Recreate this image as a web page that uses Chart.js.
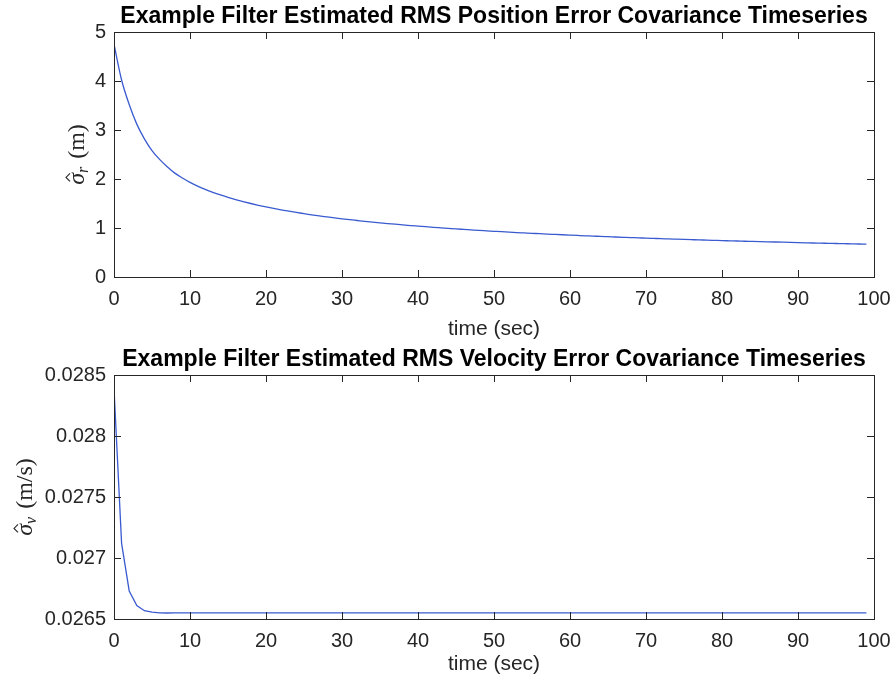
<!DOCTYPE html>
<html>
<head>
<meta charset="utf-8">
<script src="https://cdn.jsdelivr.net/npm/chart.js@4.4.0/dist/chart.umd.min.js"></script>
<style>
  body { margin: 0; background: #fff; }
  canvas { position: absolute; left: 0; }
  #posChart { top: 0; }
  #velChart { top: 342px; }
</style>
</head>
<body>
<canvas id="posChart" width="896" height="342"></canvas>
<canvas id="velChart" width="896" height="343"></canvas>
<script>
// time stamps (sec), one sample per second
const times = [
  0, 1, 2, 3, 4, 5, 6, 7, 8, 9,
  10, 11, 12, 13, 14, 15, 16, 17, 18, 19,
  20, 21, 22, 23, 24, 25, 26, 27, 28, 29,
  30, 31, 32, 33, 34, 35, 36, 37, 38, 39,
  40, 41, 42, 43, 44, 45, 46, 47, 48, 49,
  50, 51, 52, 53, 54, 55, 56, 57, 58, 59,
  60, 61, 62, 63, 64, 65, 66, 67, 68, 69,
  70, 71, 72, 73, 74, 75, 76, 77, 78, 79,
  80, 81, 82, 83, 84, 85, 86, 87, 88, 89,
  90, 91, 92, 93, 94, 95, 96, 97, 98, 99,
];

// estimated RMS position error (m)
const posSigma = [
  4.75, 4.02, 3.52, 3.12, 2.82, 2.58, 2.40, 2.25, 2.12, 2.02,
  1.93, 1.856, 1.789, 1.729, 1.675, 1.626, 1.580, 1.539, 1.500, 1.464,
  1.431, 1.400, 1.370, 1.343, 1.317, 1.293, 1.269, 1.247, 1.227, 1.207,
  1.188, 1.170, 1.153, 1.136, 1.120, 1.105, 1.091, 1.077, 1.063, 1.050,
  1.038, 1.026, 1.014, 1.003, 0.992, 0.981, 0.971, 0.961, 0.951, 0.942,
  0.933, 0.924, 0.916, 0.907, 0.899, 0.891, 0.884, 0.876, 0.869, 0.862,
  0.855, 0.848, 0.841, 0.835, 0.828, 0.822, 0.816, 0.810, 0.804, 0.799,
  0.793, 0.788, 0.783, 0.777, 0.772, 0.767, 0.762, 0.757, 0.753, 0.748,
  0.743, 0.739, 0.735, 0.730, 0.726, 0.722, 0.718, 0.714, 0.710, 0.706,
  0.702, 0.698, 0.694, 0.691, 0.687, 0.684, 0.680, 0.677, 0.673, 0.670,
];

// estimated RMS velocity error (m/s)
const velSigma = [
  0.02839, 0.02712, 0.02673, 0.02661, 0.026568, 0.026556, 0.026551, 0.026549, 0.02655, 0.02655,
  0.02655, 0.02655, 0.02655, 0.02655, 0.02655, 0.02655, 0.02655, 0.02655, 0.02655, 0.02655,
  0.02655, 0.02655, 0.02655, 0.02655, 0.02655, 0.02655, 0.02655, 0.02655, 0.02655, 0.02655,
  0.02655, 0.02655, 0.02655, 0.02655, 0.02655, 0.02655, 0.02655, 0.02655, 0.02655, 0.02655,
  0.02655, 0.02655, 0.02655, 0.02655, 0.02655, 0.02655, 0.02655, 0.02655, 0.02655, 0.02655,
  0.02655, 0.02655, 0.02655, 0.02655, 0.02655, 0.02655, 0.02655, 0.02655, 0.02655, 0.02655,
  0.02655, 0.02655, 0.02655, 0.02655, 0.02655, 0.02655, 0.02655, 0.02655, 0.02655, 0.02655,
  0.02655, 0.02655, 0.02655, 0.02655, 0.02655, 0.02655, 0.02655, 0.02655, 0.02655, 0.02655,
  0.02655, 0.02655, 0.02655, 0.02655, 0.02655, 0.02655, 0.02655, 0.02655, 0.02655, 0.02655,
  0.02655, 0.02655, 0.02655, 0.02655, 0.02655, 0.02655, 0.02655, 0.02655, 0.02655, 0.02655,
];

const posTitle = 'Example Filter Estimated RMS Position Error Covariance Timeseries';
const velTitle = 'Example Filter Estimated RMS Velocity Error Covariance Timeseries';
const xLabel   = 'time (sec)';
const posYTicks = ['0', '1', '2', '3', '4', '5'];
const velYTicks = ['0.0265', '0.027', '0.0275', '0.028', '0.0285'];

const SANS       = '"Liberation Sans", Arial, Helvetica, sans-serif';
const SERIF      = '"Liberation Serif", "Times New Roman", serif';
const AXIS_COLOR = '#262626';
const LINE_COLOR = '#3a5bd0';
const TICK_LEN   = 7;

// MATLAB-style box with inward ticks on all four sides
const boxTicks = {
  id: 'boxTicks',
  afterDatasetsDraw(chart) {
    const { ctx, chartArea: a, scales: { x, y } } = chart;
    ctx.save();
    ctx.strokeStyle = AXIS_COLOR;
    ctx.lineWidth = 1;
    ctx.strokeRect(a.left + 0.5, a.top + 0.5, a.right - a.left, a.bottom - a.top);
    ctx.beginPath();
    x.ticks.forEach(t => {
      const px = Math.round(x.getPixelForValue(t.value)) + 0.5;
      ctx.moveTo(px, a.bottom); ctx.lineTo(px, a.bottom - TICK_LEN);
      ctx.moveTo(px, a.top);    ctx.lineTo(px, a.top + TICK_LEN);
    });
    y.ticks.forEach(t => {
      const py = Math.round(y.getPixelForValue(t.value)) + 0.5;
      ctx.moveTo(a.left, py);  ctx.lineTo(a.left + TICK_LEN, py);
      ctx.moveTo(a.right, py); ctx.lineTo(a.right - TICK_LEN, py);
    });
    ctx.stroke();
    ctx.restore();
  },
};

// y label: sigma-hat with subscript, then units (LaTeX look)
const mathYLabel = {
  id: 'mathYLabel',
  afterDraw(chart, args, opts) {
    const { ctx, chartArea: a } = chart;
    const big = '24px ' + SERIF, bigIt = 'italic 24px ' + SERIF, subIt = 'italic 16px ' + SERIF;
    ctx.save();
    ctx.fillStyle = AXIS_COLOR;
    ctx.strokeStyle = AXIS_COLOR;
    ctx.textBaseline = 'alphabetic';
    ctx.font = bigIt;  const wSig = ctx.measureText('σ').width;
    ctx.font = subIt;  const wSub = ctx.measureText(opts.sub).width;
    ctx.font = big;    const wUnit = ctx.measureText(' ' + opts.unit).width;
    const total = wSig + wSub + 2 + wUnit;
    ctx.translate(opts.x, (a.top + a.bottom) / 2);
    ctx.rotate(-Math.PI / 2);
    let cx = -total / 2;
    ctx.font = bigIt;
    ctx.fillText('σ', cx, 0);
    // circumflex accent over sigma
    const hx = cx + wSig / 2 + 1.5;
    ctx.lineWidth = 1.1;
    ctx.beginPath();
    ctx.moveTo(hx - 4, -14);
    ctx.lineTo(hx, -18);
    ctx.lineTo(hx + 4, -14);
    ctx.stroke();
    cx += wSig;
    ctx.font = subIt;
    ctx.fillText(opts.sub, cx, 4);
    cx += wSub + 2;
    ctx.font = big;
    ctx.fillText(' ' + opts.unit, cx, 0);
    ctx.restore();
  },
};

function makeChart(canvasId, values, cfg) {
  const canvas = document.getElementById(canvasId);
  return new Chart(canvas.getContext('2d'), {
    type: 'line',
    data: {
      datasets: [{
        data: times.map((t, i) => ({ x: t, y: values[i] })),
        borderColor: LINE_COLOR,
        borderWidth: 1.3,
        pointRadius: 0,
        cubicInterpolationMode: cfg.smooth ? 'monotone' : 'default',
        tension: 0,
        fill: false,
      }],
    },
    options: {
      responsive: false,
      animation: false,
      layout: { padding: { left: 0, right: 22, top: 0, bottom: 0 } },
      plugins: {
        legend: { display: false },
        tooltip: { enabled: false },
        title: {
          display: true,
          fullSize: false,
          text: cfg.title,
          color: '#000',
          font: { family: SANS, size: 23, weight: 'bold' },
          padding: cfg.titlePad,
        },
        mathYLabel: cfg.yLabel,
      },
      scales: {
        x: {
          type: 'linear',
          min: 0,
          max: 100,
          grid: { display: false, drawTicks: false },
          border: { display: false },
          ticks: { stepSize: 10, color: AXIS_COLOR, padding: 10, font: { family: SANS, size: 20 } },
          title: {
            display: true,
            text: xLabel,
            color: AXIS_COLOR,
            font: { family: SANS, size: 21 },
            padding: { top: 0, bottom: cfg.xTitlePad },
          },
          afterFit: s => { s.height = cfg.xHeight; s.paddingRight = 0; s.paddingLeft = 0; },
        },
        y: {
          min: cfg.yMin,
          max: cfg.yMax,
          grid: { display: false, drawTicks: false },
          border: { display: false },
          ticks: {
            stepSize: cfg.yStep,
            color: AXIS_COLOR,
            padding: 8,
            font: { family: SANS, size: 20 },
            callback: (v, i) => cfg.yTicks[i],
          },
          afterFit: s => { s.width = 114; },
        },
      },
    },
    plugins: [boxTicks, mathYLabel],
  });
}

makeChart('posChart', posSigma, {
  title: posTitle,
  titlePad: { top: 3.2, bottom: 1.2 },
  xTitlePad: 0,
  xHeight: 65,
  yMin: 0, yMax: 5, yStep: 1,
  yTicks: posYTicks,
  yLabel: { sub: 'r', unit: '(m)', x: 84 },
  smooth: true,
});

makeChart('velChart', velSigma, {
  title: velTitle,
  titlePad: { top: 4.2, bottom: 1.2 },
  xTitlePad: 8.4,
  xHeight: 66,
  yMin: 0.0265, yMax: 0.0285, yStep: 0.0005,
  yTicks: velYTicks,
  yLabel: { sub: 'v', unit: '(m/s)', x: 32 },
  smooth: false,
});
</script>
</body>
</html>
